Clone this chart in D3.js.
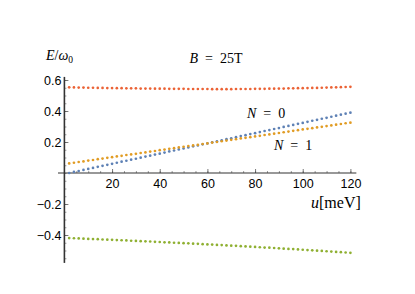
<!DOCTYPE html>
<html>
<head>
<meta charset="utf-8">
<script src="https://cdn.jsdelivr.net/npm/d3@7"></script>
<style>
  body { margin: 0; background: #fff; }
  .tick text { font-family: "Liberation Sans", Arial, sans-serif; }
</style>
</head>
<body>
<div id="chart"></div>
<script>
const uValues = [2,4,6,8,10,12,14,16,18,20,22,24,26,28,30,32,34,36,38,40,
    42,44,46,48,50,52,54,56,58,60,62,64,66,68,70,72,74,76,78,80,
    82,84,86,88,90,92,94,96,98,100,102,104,106,108,110,112,114,116,118,120];

const blueN0 = [0,.007,.013,.020,.026,.033,.040,.046,.053,.059,
    .066,.073,.079,.086,.092,.099,.106,.112,.119,.125,
    .132,.139,.145,.152,.158,.165,.172,.178,.185,.191,
    .198,.205,.211,.218,.224,.231,.238,.244,.251,.257,
    .264,.271,.277,.284,.290,.297,.304,.310,.317,.323,
    .330,.337,.343,.350,.356,.363,.370,.376,.383,.389];

const orangeN1 = [.062,.066,.071,.075,.080,.084,.089,.093,.098,.102,
    .107,.111,.116,.120,.124,.129,.133,.138,.142,.147,
    .151,.156,.160,.165,.169,.174,.178,.182,.187,.191,
    .196,.200,.205,.209,.214,.218,.223,.227,.231,.236,
    .240,.245,.249,.254,.258,.263,.267,.272,.276,.281,
    .285,.289,.294,.298,.303,.307,.312,.316,.321,.325];

const greenLower = [-.420,-.421,-.422,-.424,-.425,-.426,-.427,-.429,-.430,-.431,
    -.433,-.434,-.435,-.437,-.438,-.440,-.441,-.442,-.444,-.445,
    -.447,-.448,-.450,-.451,-.453,-.454,-.456,-.457,-.459,-.461,
    -.462,-.464,-.465,-.467,-.469,-.470,-.472,-.474,-.475,-.477,
    -.479,-.481,-.482,-.484,-.486,-.488,-.490,-.491,-.493,-.495,
    -.497,-.499,-.501,-.503,-.505,-.507,-.509,-.511,-.513,-.515];

const redUpper = [.553,.552,.551,.551,.550,.550,.549,.549,.548,.548,
    .547,.547,.546,.546,.546,.545,.545,.545,.544,.544,
    .544,.543,.543,.543,.543,.542,.542,.542,.542,.542,
    .541,.541,.541,.541,.541,.542,.542,.542,.542,.543,
    .543,.543,.544,.544,.545,.545,.546,.546,.547,.547,
    .548,.549,.549,.550,.551,.552,.553,.554,.555,.556];

const xTicks = [20, 40, 60, 80, 100, 120];
const yTicks = [-0.4, -0.2, 0.2, 0.4, 0.6];

const seriesList = [
    { values: blueN0, color: "#5E81B5" },
    { values: orangeN1, color: "#E19C24" },
    { values: greenLower, color: "#8FB032" },
    { values: redUpper, color: "#EB6235" }
];

const width = 415, height = 294;

const svg = d3.select("#chart")
    .append("svg")
    .attr("width", width)
    .attr("height", height);

// scales
const xScale = d3.scaleLinear()
    .domain([0, 120])
    .range([64.4, 350.4]);
const yScale = d3.scaleLinear()
    .domain([0, 0.6])
    .range([173, 80]);

const axisColor = "#333";

// x axis (at y = 0)
const xMinor = d3.range(5, 121, 5);
svg.append("g")
    .attr("transform", `translate(0, ${yScale(0)})`)
    .call(d3.axisTop(xScale).tickValues(xMinor).tickSize(2).tickFormat(""))
    .call(g => g.select(".domain").remove())
    .selectAll("line").attr("stroke", "#555").attr("stroke-width", 0.6);

const xAxis = svg.append("g")
    .attr("transform", `translate(0, ${yScale(0)})`)
    .call(d3.axisTop(xScale).tickValues(xTicks).tickSize(4).tickFormat(d3.format("d")));
xAxis.select(".domain").remove();
xAxis.selectAll("line").attr("stroke", "#555").attr("stroke-width", 0.8);
xAxis.selectAll("text")
    .attr("y", 6)
    .attr("dy", "0.71em")
    .attr("font-size", 12.5)
    .attr("fill", "#000");
svg.append("line")
    .attr("x1", xScale(-2.7)).attr("x2", xScale(122.5))
    .attr("y1", yScale(0)).attr("y2", yScale(0))
    .attr("stroke", axisColor).attr("stroke-width", 1.2);

// y axis (at u = 0)
const yMinor = d3.range(-0.55, 0.61, 0.05);
svg.append("g")
    .attr("transform", `translate(${xScale(0)}, 0)`)
    .call(d3.axisRight(yScale).tickValues(yMinor).tickSize(2).tickFormat(""))
    .call(g => g.select(".domain").remove())
    .selectAll("line").attr("stroke", "#555").attr("stroke-width", 0.6);

const yAxis = svg.append("g")
    .attr("transform", `translate(${xScale(0)}, 0)`)
    .call(d3.axisRight(yScale).tickValues(yTicks).tickSize(4).tickFormat(d3.format(".1f")));
yAxis.select(".domain").remove();
yAxis.selectAll("line").attr("stroke", "#555").attr("stroke-width", 0.8);
yAxis.selectAll("text")
    .attr("x", -3)
    .attr("text-anchor", "end")
    .attr("font-size", 12.5)
    .attr("fill", "#000");
svg.append("line")
    .attr("x1", xScale(0)).attr("x2", xScale(0))
    .attr("y1", yScale(0.62)).attr("y2", yScale(-0.58))
    .attr("stroke", axisColor).attr("stroke-width", 1.6);

// points
seriesList.forEach(s => {
    svg.append("g")
        .selectAll("circle")
        .data(s.values)
        .join("circle")
        .attr("cx", (d, i) => xScale(uValues[i]))
        .attr("cy", d => yScale(d))
        .attr("r", 1.35)
        .attr("fill", s.color);
});

// labels
const serif = "'Liberation Serif', 'Times New Roman', serif";
const sp = "\u2002";

const eLabel = svg.append("text")
    .attr("x", 46).attr("y", 60)
    .attr("font-family", serif).attr("font-size", 14);
eLabel.append("tspan").attr("font-style", "italic").text("E");
eLabel.append("tspan").text("/");
eLabel.append("tspan").attr("font-style", "italic").text("ω");
eLabel.append("tspan").attr("font-size", 9.5).attr("dy", 3).text("0");

const bLabel = svg.append("text")
    .attr("x", 216).attr("y", 63)
    .attr("text-anchor", "middle")
    .attr("font-family", serif).attr("font-size", 14);
bLabel.append("tspan").attr("font-style", "italic").text("B");
bLabel.append("tspan").text(sp + "=" + sp + "25T");

function nLabel(x, y, n) {
    const t = svg.append("text")
        .attr("x", x).attr("y", y)
        .attr("font-family", serif).attr("font-size", 14);
    t.append("tspan").attr("font-style", "italic").text("N");
    t.append("tspan").text(sp + "=" + sp + n);
}
nLabel(247, 118, 0);
nLabel(274, 150, 1);

const uLabel = svg.append("text")
    .attr("x", 311).attr("y", 208)
    .attr("font-family", serif).attr("font-size", 16);
uLabel.append("tspan").attr("font-style", "italic").text("u");
uLabel.append("tspan").text("[meV]");
</script>
</body>
</html>
